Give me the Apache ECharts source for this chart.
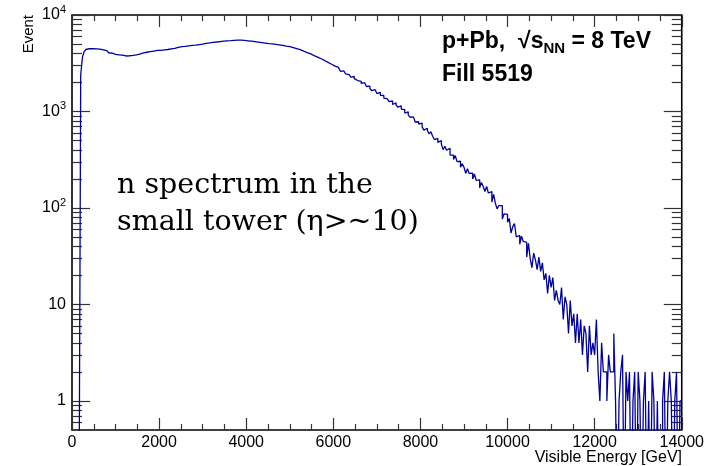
<!DOCTYPE html>
<html><head><meta charset="utf-8">
<script src="https://cdn.jsdelivr.net/npm/echarts@6/dist/echarts.min.js"></script>
<style>html,body{margin:0;padding:0;background:#fff}#c{width:707px;height:466px}</style>
</head><body><div id="c"></div>
<script>
// ---- data ----
const binWidth = 40;           // GeV per bin
const xMin = 0, xMax = 14000;
const counts = [
  0,0,0,0,0,2400,3650,4180,4390,4470,
  4430,4480,4410,4460,4500,4420,4390,4350,4300,4270,
  4190,4060,4040,3920,3900,3800,3870,3780,3840,3760,
  3760,3830,3780,3860,3820,3900,3870,3960,3930,4010,
  4050,4000,4110,4090,4170,4120,4230,4180,4290,4250,
  4290,4380,4350,4430,4390,4480,4460,4540,4500,4590,
  4620,4580,4690,4650,4730,4700,4790,4740,4840,4800,
  4880,4850,4940,4910,5000,4960,5070,5040,5130,5090,
  5200,5160,5250,5230,5310,5270,5350,5300,5390,5340,
  5420,5370,5460,5410,5480,5430,5490,5420,5450,5370,
  5400,5330,5350,5260,5300,5210,5240,5150,5180,5100,
  5120,5040,5060,4980,5010,4930,4960,4870,4910,4830,
  4840,4740,4760,4650,4690,4560,4580,4450,4470,4350,
  4370,4230,4220,4090,4080,3940,3950,3810,3800,3670,
  3660,3530,3520,3380,3380,3240,3230,3100,3090,2960,
  2953,2819,2862,2735,2606,2636,2586,2460,2410,2412,
  2270,2305,2190,2093,2132,2053,1951,1986,1894,1816,
  1830,1732,1649,1684,1623,1535,1580,1471,1465,1375,
  1354,1383,1265,1284,1182,1229,1168,1111,1146,1059,
  1043,963,992,925,872,879,867,778,783,740,
  758,689,641,671,635,585,617,554,512,526,
  478,501,461,402,436,396,415,353,353,318,
  349,302,305,265,287,264,228,255,228,229,
  200,225,193,196,162,184,168,148,167,143,
  148,115,138,112,98,106,106,77,87,86,
  71,78,55,64,69,50,52,42,51,45,
  44,31,43,30,24,34,29,23,31,22,
  27,18,21,13,20,15,19,11,14,11,
  10,15,7,12,10,5,11,6,8,4,
  8,4,7,3,6,5,2,6,3,4,
  3,7,2,1,4,2,2,1,3,2,
  2,5,1,0,1,2,3,0,2,1,
  2,0,1,2,0,2,1,0,1,2,
  0,1,0,2,1,0,1,0,0,1,
  2,0,1,2,1,0,1,2,0,1
];
const yMin = 0.5, yMax = 10000;
const yMajorTicks = [1, 10, 100, 1000, 10000];
const yMajorLabels = ['1', '10', '10^2', '10^3', '10^4'];
const yMinorTicks = [0.6,0.7,0.8,0.9, 2,3,4,5,6,7,8,9, 20,30,40,50,60,70,80,90,
  200,300,400,500,600,700,800,900, 2000,3000,4000,5000,6000,7000,8000,9000];
const xInterval = 2000;
const xTitle = 'Visible Energy [GeV]';
const yTitle = 'Event';

// ---- build series data (zero bins drawn below the frame, clipped) ----
const ZERO_DRAW = 0.05;
const stepData = counts.map((c, i) => [i * binWidth, c > 0 ? c : ZERO_DRAW]);
stepData.push([xMax, counts[counts.length - 1] > 0 ? counts[counts.length - 1] : ZERO_DRAW]);

const FONT = 'Liberation Sans, Arial, Helvetica, sans-serif';
const tickStyle = { color: '#333', width: 1.2 };

function yLabelFmt(v) {
  const idx = yMajorTicks.indexOf(v);
  const s = idx >= 0 ? yMajorLabels[idx] : String(v);
  const p = s.split('^');
  return p.length === 2 ? '{b|' + p[0] + '}{e|' + p[1] + '}' : '{b|' + s + '}';
}

const yBase = {
  type: 'log', logBase: 10, min: yMin, max: yMax,
  splitLine: { show: false }, axisLine: { show: false },
  minorTick: { show: false }, minorSplitLine: { show: false }
};
const xBase = {
  type: 'value', min: xMin, max: xMax, interval: xInterval,
  splitLine: { show: false }, axisLine: { show: false },
  axisTick: { show: true, inside: true, length: 12, lineStyle: tickStyle },
  minorTick: { show: true, splitNumber: 4, length: 6, lineStyle: tickStyle }
};

const chart = echarts.init(document.getElementById('c'));
chart.setOption({
  animation: false,
  backgroundColor: '#fff',
  grid: { left: 72, right: 25, top: 15, bottom: 36, show: true,
          borderColor: '#000', borderWidth: 1.6, backgroundColor: 'transparent' },
  xAxis: [
    Object.assign({}, xBase, { position: 'bottom',
      axisLabel: { margin: 5, fontSize: 16, fontFamily: FONT, color: '#000',
        formatter: v => String(v) } }),
    Object.assign({}, xBase, { position: 'top', axisLabel: { show: false } })
  ],
  yAxis: [
    Object.assign({}, yBase, { position: 'left',
      axisTick: { show: true, inside: true, length: 18, customValues: yMajorTicks, lineStyle: tickStyle },
      axisLabel: { show: true, customValues: yMajorTicks, margin: 6, formatter: yLabelFmt,
        rich: {
          b: { fontSize: 16, fontFamily: FONT, color: '#000', lineHeight: 22 },
          e: { fontSize: 11, fontFamily: FONT, color: '#000', lineHeight: 12, verticalAlign: 'top' }
        } } }),
    Object.assign({}, yBase, { position: 'left',
      axisTick: { show: true, inside: true, length: 10, customValues: yMinorTicks, lineStyle: tickStyle },
      axisLabel: { show: false } }),
    Object.assign({}, yBase, { position: 'right',
      axisTick: { show: true, inside: true, length: 18, customValues: yMajorTicks, lineStyle: tickStyle },
      axisLabel: { show: false } }),
    Object.assign({}, yBase, { position: 'right',
      axisTick: { show: true, inside: true, length: 10, customValues: yMinorTicks, lineStyle: tickStyle },
      axisLabel: { show: false } })
  ],
  series: [{
    type: 'line', xAxisIndex: 0, yAxisIndex: 0, data: stepData, step: 'end',
    symbol: 'none', clip: true, silent: true,
    lineStyle: { color: '#0000a0', width: 1.3 }, z: 5
  }],
  graphic: [
    { type: 'text', x: 29, y: 15, rotation: Math.PI / 2, silent: true,
      style: { text: yTitle, fontSize: 15, fontFamily: FONT, fill: '#000', align: 'right', verticalAlign: 'middle' } },
    { type: 'text', x: 682, y: 458, silent: true,
      style: { text: xTitle, fontSize: 16, fontFamily: FONT, fill: '#000', align: 'right', verticalAlign: 'middle' } },
    { type: 'text', x: 442, y: 28, silent: true,
      style: { text: '{a|p+Pb,  \u221As}{s|NN}{a| = 8 TeV}', align: 'left', verticalAlign: 'top',
        rich: {
          a: { fontSize: 23, fontWeight: 'bold', fontFamily: FONT, fill: '#000', lineHeight: 28 },
          s: { fontSize: 15, fontWeight: 'bold', fontFamily: FONT, fill: '#000', lineHeight: 15, verticalAlign: 'bottom' }
        } } },
    { type: 'text', x: 442, y: 74.5, silent: true,
      style: { text: 'Fill 5519', fontSize: 23, fontWeight: 'bold', fontFamily: FONT, fill: '#000',
        align: 'left', verticalAlign: 'middle' } },
    { type: 'text', x: 117, y: 167, silent: true,
      style: { text: 'n spectrum in the\nsmall tower (\u03B7>~10)', fontSize: 28.5, lineHeight: 37,
        fontFamily: 'DejaVu Serif, serif', fill: '#000', align: 'left', verticalAlign: 'top' } }
  ]
});
</script>
</body></html>
